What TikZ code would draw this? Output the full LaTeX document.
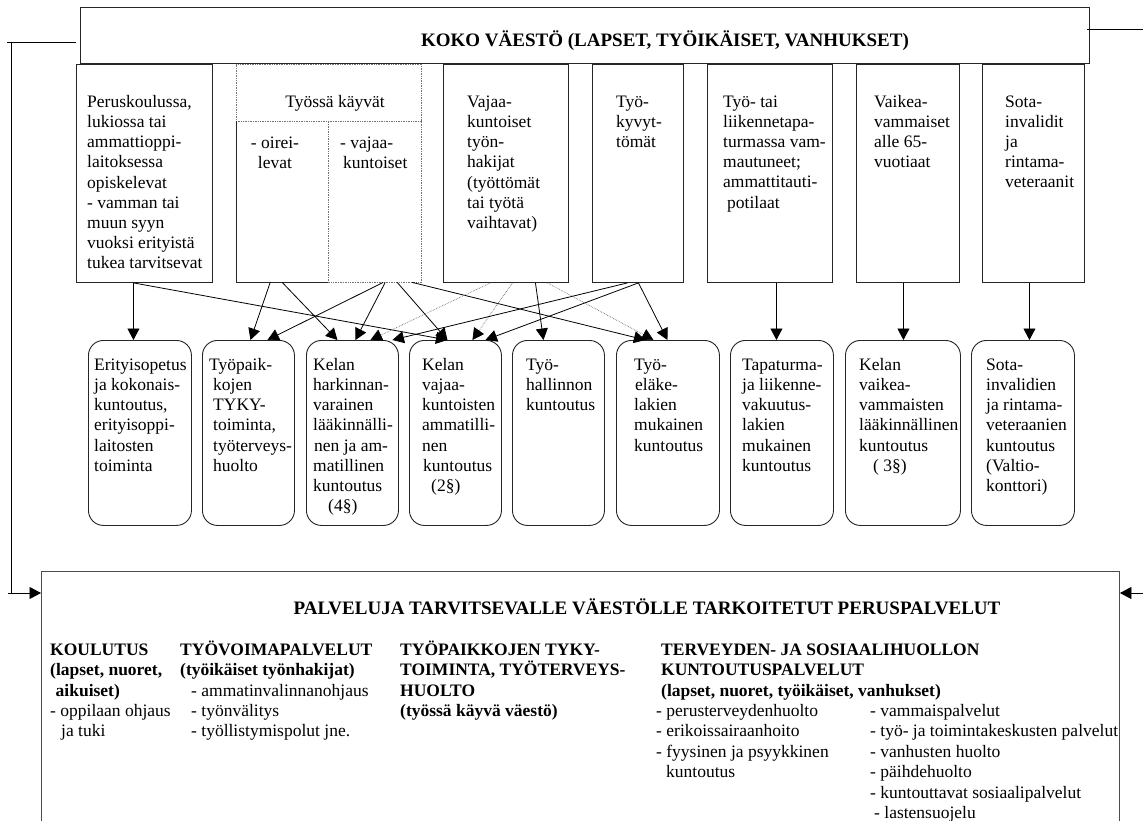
\documentclass[tikz,border=0pt]{standalone}
\usepackage{fontspec}
\setmainfont{Liberation Serif}
\usetikzlibrary{arrows.meta}
\newcommand\mystrut{\rule{0pt}{16pt}}
\begin{document}
\begin{tikzpicture}[x=1pt,y=-1pt,
  box/.style={draw=black!85, line width=0.9pt, inner sep=0pt, anchor=north west},
  rbox/.style={draw=black!85, line width=0.9pt, rounded corners=15pt, inner sep=0pt, anchor=north west},
  blank/.style={inner sep=0pt, anchor=north west},
  txt/.style={inner sep=0pt, anchor=north west, align=left, font=\fontsize{17.5}{20.2}\selectfont},
  ctxt/.style={inner sep=0pt, anchor=north, align=center, font=\fontsize{17.5}{20.2}\selectfont},
  btxt/.style={inner sep=0pt, anchor=north west, align=left, font=\fontsize{17.5}{20.4}\selectfont},
  title/.style={inner sep=0pt, anchor=base, font=\fontsize{19}{22}\selectfont\bfseries},
  conn/.style={line width=0.8pt, draw=black},
  arr/.style={conn, -{Triangle[length=11.5pt,width=12pt]}},
  darr/.style={line width=0.7pt, draw=black!55, densely dotted, -{Triangle[length=11.5pt,width=12pt,color=black]}},
  tline/.style={line width=0.7pt, draw=black!55, densely dotted},
  sline/.style={line width=0.9pt, draw=black!85},
]
\useasboundingbox (0,0) rectangle (1143,821);
\fill[white] (0,0) rectangle (1143,821);

% top box
\node[box, minimum width=1009pt, minimum height=56pt] (top) at (80,6.7) {};
\node[title] (toptitle) at (665,46.5) {KOKO VÄESTÖ (LAPSET, TYÖIKÄISET, VANHUKSET)};

% upper boxes
\node[box, minimum width=136pt, minimum height=218pt] (A) at (76,64) {};
\node[txt] (At) at (87,91) {\mystrut Peruskoulussa,\\lukiossa tai\\ammattioppi-\\laitoksessa\\opiskelevat\\- vamman tai\\muun syyn\\vuoksi erityistä\\tukea tarvitsevat};

\node[blank, minimum width=185pt, minimum height=57pt] (TKh) at (236,64) {};
\node[blank, minimum width=92pt, minimum height=161pt] (TKo) at (236,121) {};
\node[blank, minimum width=93pt, minimum height=161pt] (TKv) at (328,121) {};
\draw[tline] (TKh.south west) -- (TKh.north west) -- (TKh.north east) -- (TKv.south east) -- (TKv.south west) -- (TKv.north west);
\draw[tline] (TKh.south west) -- (TKh.south east);
\draw[sline] (TKo.north west) -- (TKo.south west) -- (TKo.south east);
\node[ctxt] (TKht) at (335,91) {\mystrut Työssä käyvät};
\node[ctxt] (TKot) at (275,132) {\mystrut - oirei-\\levat};
\node[txt] (TKvt) at (340,132) {\mystrut - vajaa-\\\hspace*{3pt}kuntoiset};

\node[box, minimum width=125pt, minimum height=218pt] (V) at (443,64) {};
\node[txt] (Vt) at (467,91) {\mystrut Vajaa-\\kuntoiset\\työn-\\hakijat\\(työttömät\\tai työtä\\vaihtavat)};

\node[box, minimum width=91pt, minimum height=218pt] (K) at (592,64) {};
\node[txt] (Kt) at (616,91) {\mystrut Työ-\\kyvyt-\\tömät};

\node[box, minimum width=125pt, minimum height=218pt] (L) at (707,64) {};
\node[txt] (Lt) at (723,91) {\mystrut Työ- tai\\liikennetapa-\\turmassa vam-\\mautuneet;\\ammattitauti-\\\hspace*{4pt}potilaat};

\node[box, minimum width=103pt, minimum height=218pt] (VA) at (856,64) {};
\node[txt] (VAt) at (874,91) {\mystrut Vaikea-\\vammaiset\\alle 65-\\vuotiaat};

\node[box, minimum width=102pt, minimum height=218pt] (S) at (982,64) {};
\node[txt] (St) at (1005,91) {\mystrut Sota-\\invalidit\\ja\\rintama-\\veteraanit};

% lower boxes
\node[rbox, minimum width=103pt, minimum height=185pt] (E) at (88,340) {};
\node[txt] (Et) at (94,354) {\mystrut Erityisopetus\\ja kokonais-\\kuntoutus,\\erityisoppi-\\laitosten\\toiminta};

\node[rbox, minimum width=92pt, minimum height=185pt] (T) at (202,340) {};
\node[txt] (Tt) at (209,354) {\mystrut Työpaik-\\\hspace*{4pt}kojen\\\hspace*{4pt}TYKY-\\\hspace*{4pt}toiminta,\\\hspace*{4pt}työterveys-\\\hspace*{4pt}huolto};

\node[rbox, minimum width=92pt, minimum height=185pt] (K4) at (306,340) {};
\node[txt] (K4t) at (313,354) {\mystrut Kelan\\harkinnan-\\varainen\\lääkinnälli-\\\hspace*{1pt}nen ja am-\\matillinen\\kuntoutus\\\hspace*{15pt}(4§)};

\node[rbox, minimum width=92pt, minimum height=185pt] (K2) at (409,340) {};
\node[txt] (K2t) at (422,354) {\mystrut Kelan\\vajaa-\\kuntoisten\\ammatilli-\\nen\\\hspace*{1pt}kuntoutus\\\hspace*{9pt}(2§)};

\node[rbox, minimum width=92pt, minimum height=185pt] (TH) at (512,340) {};
\node[txt] (THt) at (526,354) {\mystrut Työ-\\hallinnon\\kuntoutus};

\node[rbox, minimum width=103pt, minimum height=185pt] (TE) at (616,340) {};
\node[txt] (TEt) at (634,354) {\mystrut Työ-\\\hspace*{1pt}eläke-\\lakien\\mukainen\\kuntoutus};

\node[rbox, minimum width=103pt, minimum height=185pt] (TL) at (730,340) {};
\node[txt] (TLt) at (742,354) {\mystrut Tapaturma-\\ja liikenne-\\vakuutus-\\lakien\\mukainen\\kuntoutus};

\node[rbox, minimum width=115pt, minimum height=185pt] (KV) at (845,340) {};
\node[txt] (KVt) at (859,354) {\mystrut Kelan\\vaikea-\\vammaisten\\lääkinnällinen\\kuntoutus\\\hspace*{14pt}( 3§)};

\node[rbox, minimum width=103pt, minimum height=185pt] (SV) at (971,340) {};
\node[txt] (SVt) at (986,354) {\mystrut Sota-\\invalidien\\ja rintama-\\veteraanien\\kuntoutus\\(Valtio-\\konttori)};

% bottom box
\node[box, draw=black!70, minimum width=1078pt, minimum height=270pt] (P) at (41,571) {};
\node[title] (Ptitle) at (647,614) {PALVELUJA TARVITSEVALLE VÄESTÖLLE TARKOITETUT PERUSPALVELUT};
\node[btxt] (P1) at (50,639) {\mystrut\textbf{KOULUTUS}\\\textbf{(lapset, nuoret,}\\\hspace*{5.5pt}\textbf{aikuiset)}\\- oppilaan ohjaus\\\hspace*{11pt}ja tuki};
\node[btxt] (P2) at (180,639) {\mystrut\textbf{TYÖVOIMAPALVELUT}\\\textbf{(työikäiset työnhakijat)}\\\hspace*{11pt}- ammatinvalinnanohjaus\\\hspace*{11pt}- työnvälitys\\\hspace*{11pt}- työllistymispolut jne.};
\node[btxt] (P3) at (400,639) {\mystrut\textbf{TYÖPAIKKOJEN TYKY-}\\\textbf{TOIMINTA, TYÖTERVEYS-}\\\textbf{HUOLTO}\\\textbf{(työssä käyvä väestö)}};
\node[btxt] (P4) at (661,639) {\mystrut\textbf{TERVEYDEN- JA SOSIAALIHUOLLON}\\\textbf{KUNTOUTUSPALVELUT}\\\textbf{(lapset, nuoret, työikäiset, vanhukset)}};
\node[btxt] (P4a) at (656,700.2) {\mystrut - perusterveydenhuolto\\- erikoissairaanhoito\\- fyysinen ja psyykkinen\\\hspace*{10pt}kuntoutus};
\node[btxt] (P4b) at (870,700.2) {\mystrut - vammaispalvelut\\- työ- ja toimintakeskusten palvelut\\- vanhusten huolto\\- päihdehuolto\\- kuntouttavat sosiaalipalvelut\\\hspace*{4pt}- lastensuojelu};

% side connectors
\coordinate (lt) at (76,42);
\coordinate (ltl) at (7,42);
\coordinate (lv) at (11.5,42);
\coordinate (lb) at (8,593);
\draw[conn] (lt) -- (ltl);
\draw[conn] (lv) -- (lv |- lb);
\draw[arr] (lb) -- (P.west |- lb);
\coordinate (rt) at (1143,29);
\draw[conn] ([xshift=-3pt]top.east |- rt) -- (rt);
\coordinate (rb) at (1143,593);
\draw[arr] (rb) -- (P.east |- rb);

% arrows
\draw[arr] ([xshift=-11pt]A.south) -- ([xshift=-6.5pt]E.north);
\draw[arr] ([xshift=-11pt]A.south) -- ([xshift=-8pt]K2.north);
\draw[arr] ([xshift=-12pt]TKo.south) -- ([xshift=2pt]T.north);
\draw[arr] (TKo.south) -- ([xshift=-15pt]K4.north);
\draw[arr] ([xshift=8.5pt]TKv.south) -- ([xshift=19pt]T.north);
\draw[arr] ([xshift=10.5pt]TKv.south) -- ([xshift=3pt]K4.north);
\draw[arr] ([xshift=22.5pt]TKv.south) -- ([xshift=-8pt]K2.north);
\draw[arr] ([xshift=37.5pt]TKv.south) -- ([xshift=-22.5pt]TE.north);
\draw[darr] ([xshift=-15.5pt]V.south) -- ([xshift=18pt]K4.north);
\draw[darr] ([xshift=6.5pt]V.south) -- ([xshift=17pt]K2.north);
\draw[arr] ([xshift=29.5pt]V.south) -- ([xshift=-15pt]TH.north);
\draw[darr] ([xshift=41.5pt]V.south) -- ([xshift=-14.5pt]TE.north);
\draw[arr] ([xshift=-10.5pt]K.south) -- ([xshift=40pt]K4.north);
\draw[arr] ([xshift=0.5pt]K.south) -- ([xshift=30pt]K2.north);
\draw[arr] ([xshift=0.5pt]K.south) -- ([xshift=-0.5pt]TE.north);
\draw[arr] ([xshift=6.5pt]L.south) -- ([xshift=-5.5pt]TL.north);
\draw[arr] ([xshift=-4.5pt]VA.south) -- ([xshift=0.5pt]KV.north);
\draw[arr] ([xshift=-4pt]S.south) -- ([xshift=6.5pt]SV.north);
\end{tikzpicture}
\end{document}
